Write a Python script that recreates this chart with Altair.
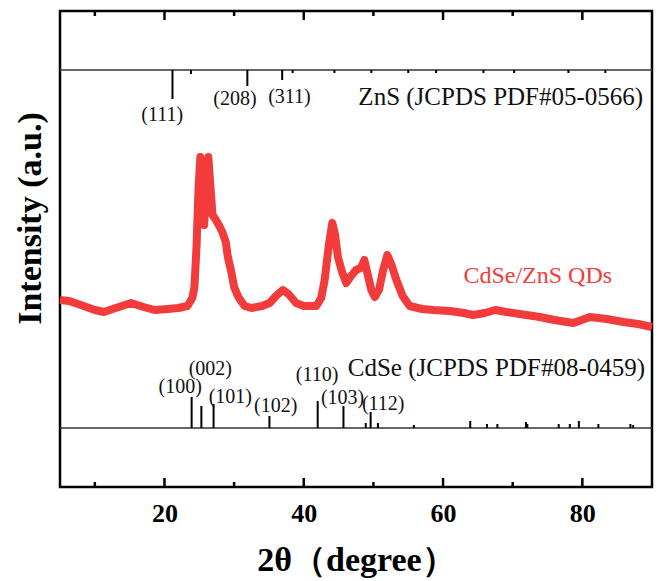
import altair as alt
import pandas as pd

# ---- measured XRD pattern (2theta in degrees, intensity in arbitrary units) ----
two_theta = [5.0, 6.3, 8.0, 10.0, 11.3, 13.0, 15.2, 17.0, 18.6, 20.5, 22.0, 23.3,
             24.0, 24.3, 24.6, 24.9, 25.15, 25.45, 25.7, 25.95, 26.3, 26.6, 26.9,
             27.3, 27.8, 28.3, 28.8, 29.1, 29.6, 30.0, 30.6, 31.5, 32.5, 34.0,
             35.1, 36.0, 37.0, 37.8, 38.9, 40.0, 41.8, 42.5, 43.0, 43.6, 44.1,
             44.5, 44.9, 45.5, 46.1, 46.8, 47.5, 48.2, 48.7, 49.2, 49.7, 50.2,
             50.8, 51.4, 52.0, 52.6, 53.3, 54.2, 55.2, 57.0, 58.6, 61.0, 63.0,
             64.3, 66.0, 67.5, 69.1, 71.0, 73.9, 76.0, 78.7, 81.1, 83.5, 85.9,
             88.0, 90.0]
intensity = [187, 186, 182, 177, 175, 179, 184, 180, 177, 178, 179, 181,
             189, 200, 240, 300, 330, 300, 262, 295, 330, 300, 272,
             268, 262, 255, 245, 230, 215, 200, 190, 181, 179, 181,
             184, 191, 197, 193, 184, 181, 181, 189, 207, 242, 264,
             252, 230, 215, 204, 211, 217, 219, 227, 212, 197, 190,
             197, 217, 232, 222, 207, 191, 181, 178, 177, 176, 174,
             172, 174, 177, 175, 173, 170, 167, 164, 170, 168, 165,
             163, 160]

# ---- ZnS reference (JCPDS 05-0566): stick positions and relative heights ----
zns_pos = [21.15, 23.8, 31.9, 36.9, 38.4, 44.4, 49.7, 55.0, 59.0, 65.8, 70.2, 78.0, 83.3]
zns_int = [29, 4, 16, 10, 3, 3, 3, 3, 3, 3, 3, 3, 3]
zns_base = 417

# ---- CdSe reference (JCPDS 08-0459) ----
cdse_pos = [23.9, 25.3, 27.05, 35.07, 42.0, 45.7, 48.9, 49.6, 50.65, 55.8, 63.9,
            66.3, 67.8, 71.9, 72.1, 76.6, 78.2, 79.5, 82.3, 86.9, 87.3]
cdse_int = [31, 22, 24, 12, 27, 22, 5, 16, 5, 3, 7, 4, 4, 6, 4, 4, 4, 7, 4, 4, 3]
cdse_base = 59

# ---- hkl labels ----
zns_hkl = ["(111)", "(208)", "(311)"]
zns_hkl_x = [19.67, 30.13, 37.94]
zns_hkl_y = [372, 388, 390]
cdse_hkl = ["(100)", "(002)", "(101)", "(102)", "(110)", "(103)", "(112)"]
cdse_hkl_x = [22.26, 26.58, 29.46, 35.97, 41.9, 45.57, 51.4]
cdse_hkl_y = [100, 118, 90, 81, 112, 89, 83]

# ---- phase labels ----
phase_text = ["ZnS (JCPDS PDF#05-0566)", "CdSe (JCPDS PDF#08-0459)"]
phase_x = [88.73, 89.0]
phase_y = [390, 119]
sample_text = ["CdSe/ZnS QDs"]
sample_x = [73.6]
sample_y = [211]

major_ticks = [20, 40, 60, 80]
minor_ticks = [10, 30, 50, 70]

RED = "#f23c3c"
FONT = "Liberation Serif"
W, H = 592, 476

xs = alt.Scale(domain=[5, 90], nice=False, zero=False)
ys = alt.Scale(domain=[0, 476], nice=False, zero=False)

curve = pd.DataFrame({"tt": two_theta, "I": intensity})
zns = pd.DataFrame({"tt": zns_pos, "h": zns_int})
cdse = pd.DataFrame({"tt": cdse_pos, "h": cdse_int})
bases = pd.DataFrame({"b": [zns_base, cdse_base]})
hkl = pd.DataFrame({"t": zns_hkl + cdse_hkl,
                    "x": zns_hkl_x + cdse_hkl_x,
                    "y": zns_hkl_y + cdse_hkl_y})
phases = pd.DataFrame({"t": phase_text, "x": phase_x, "y": phase_y})
sample = pd.DataFrame({"t": sample_text, "x": sample_x, "y": sample_y})
majors = pd.DataFrame({"v": major_ticks})
minors = pd.DataFrame({"v": minor_ticks})

xaxis = alt.Axis(values=major_ticks, labelFont=FONT, labelFontWeight="bold",
                 labelFontSize=26, labelColor="black", ticks=False, domain=False,
                 grid=False, labelPadding=13, title="2θ（degree）",
                 titleFont=FONT, titleFontWeight="bold", titleFontSize=34,
                 titleColor="black", titleBaseline="alphabetic", titleY=83)
yaxis = alt.Axis(labels=False, ticks=False, domain=False, grid=False,
                 title="Intensity (a.u.)", titleFont=FONT, titleFontWeight="bold",
                 titleFontSize=34, titleColor="black", titleAngle=270,
                 titleBaseline="alphabetic", titleAlign="center",
                 titleX=-20, titleY=207)


def X(field):
    return alt.X(field, type="quantitative", scale=xs, axis=xaxis)


def Y(field):
    return alt.Y(field, type="quantitative", scale=ys, axis=yaxis)


line = alt.Chart(curve).mark_line(color=RED, strokeWidth=8, strokeJoin="round").encode(
    x=X("tt"), y=Y("I"),
)

base_rules = alt.Chart(bases).mark_rule(color="#333333", strokeWidth=1.5).encode(
    x=alt.value(0), x2=alt.value(W), y=Y("b"),
)

zns_sticks = alt.Chart(zns).transform_calculate(
    y0=f"{zns_base}", y1=f"{zns_base} - datum.h"
).mark_rule(color="black", strokeWidth=2).encode(
    x=X("tt"), y=Y("y0"), y2="y1:Q",
)

cdse_sticks = alt.Chart(cdse).transform_calculate(
    y0=f"{cdse_base}", y1=f"{cdse_base} + datum.h"
).mark_rule(color="black", strokeWidth=2).encode(
    x=X("tt"), y=Y("y0"), y2="y1:Q",
)


def tick_layer(df, y, y2):
    return alt.Chart(df).mark_rule(color="black", strokeWidth=2.5).encode(
        x=X("v"), y=alt.value(y), y2=alt.value(y2))


ticks = [tick_layer(majors, H, H - 9), tick_layer(minors, H, H - 5),
         tick_layer(majors, 0, 9), tick_layer(minors, 0, 5)]

hkl_text = alt.Chart(hkl).mark_text(font=FONT, fontSize=20, color="#111111",
                                    baseline="middle", align="center").encode(
    x=X("x"), y=Y("y"), text="t:N",
)

phase_lbl = alt.Chart(phases).mark_text(font=FONT, fontSize=25, color="#111111",
                                        baseline="middle", align="right").encode(
    x=X("x"), y=Y("y"), text="t:N",
)

sample_lbl = alt.Chart(sample).mark_text(font=FONT, fontSize=24, color=RED,
                                         baseline="middle", align="center").encode(
    x=X("x"), y=Y("y"), text="t:N",
)

chart = alt.layer(
    line, base_rules, zns_sticks, cdse_sticks, *ticks, hkl_text, phase_lbl, sample_lbl
).properties(
    width=W, height=H,
    autosize=alt.AutoSizeParams(type="none"),
    padding={"left": 60, "top": 11, "right": 7, "bottom": 94},
    background="white",
).configure_view(
    stroke="black", strokeWidth=2.5
)

chart.save("out.html", embed_options={"renderer": "svg", "actions": False})
